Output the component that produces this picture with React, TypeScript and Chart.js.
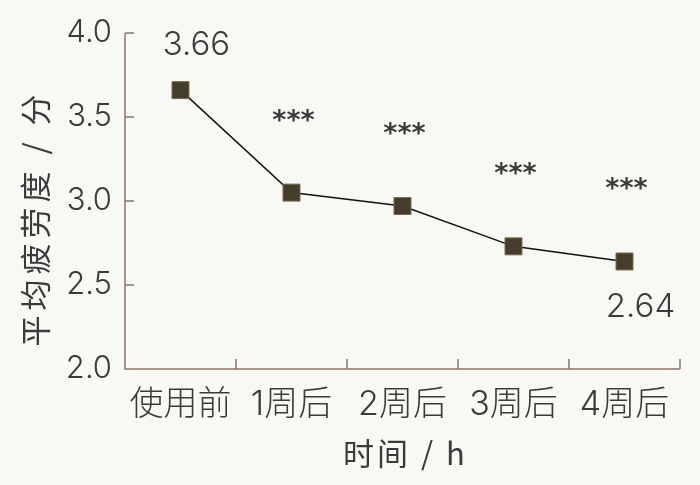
import { useEffect, useRef } from 'react'
import { Chart, registerables } from 'chart.js'
Chart.register(...registerables)

const categories = ['使用前', '1周后', '2周后', '3周后', '4周后']
const fatigue = [3.66, 3.05, 2.97, 2.73, 2.64]
const yTicks = [2.0, 2.5, 3.0, 3.5, 4.0]
const stars = ['', '***', '***', '***', '***']
const valueLabels = ['3.66', '', '', '', '2.64']
const xTitle = '时间 / h'
const yTitle = '平均疲劳度 / 分'

const axisColor = '#8a7566'
const textColor = '#3b3b3b'
const bg = '#f8f9f5'
const numFont = 'Inter, Lato, "Noto Sans CJK SC", sans-serif'

const axesPlugin = {
  id: 'axes',
  beforeDatasetsDraw(chart: any) {
    const { ctx, chartArea, scales } = chart
    const { left, right, top, bottom } = chartArea
    const x = scales.x, y = scales.y
    ctx.save()
    ctx.strokeStyle = axisColor
    ctx.lineWidth = 1.5
    ctx.beginPath()
    ctx.moveTo(left, top)
    ctx.lineTo(left, bottom)
    ctx.lineTo(right, bottom)
    yTicks.forEach(v => {
      if (v === yTicks[0]) return
      const py = y.getPixelForValue(v)
      ctx.moveTo(left, py)
      ctx.lineTo(left + 9, py)
    })
    const half = (x.getPixelForValue(1) - x.getPixelForValue(0)) / 2
    categories.forEach((_, i) => {
      const px = x.getPixelForValue(i) + half
      ctx.moveTo(px, bottom)
      ctx.lineTo(px, bottom - 10)
    })
    ctx.stroke()
    ctx.restore()
  },
  afterDatasetsDraw(chart: any) {
    const { ctx, chartArea } = chart
    const pts = chart.getDatasetMeta(0).data
    ctx.save()
    ctx.fillStyle = textColor
    ctx.textAlign = 'center'
    ctx.textBaseline = 'alphabetic'
    ctx.font = '300 33px ' + numFont
    valueLabels.forEach((t, i) => {
      if (!t) return
      const p = pts[i]
      const above = i === 0
      ctx.fillText(t, p.x + 16, above ? p.y - 35 : p.y + 56)
    })
    // significance marks
    ctx.font = 'bold 27px "DejaVu Sans", sans-serif'
    stars.forEach((t, i) => {
      if (!t) return
      const p = pts[i]
      ctx.fillText(t, p.x + 2, p.y - 64)
    })
    // axis titles
    ctx.font = '31px "Noto Sans CJK SC", Lato, sans-serif'
    ;(ctx as any).letterSpacing = '3px'
    ctx.textBaseline = 'middle'
    ctx.fillText(xTitle, (chartArea.left + chartArea.right) / 2 + 3, 453)
    ctx.translate(35, 218)
    ctx.rotate(-Math.PI / 2)
    ;(ctx as any).letterSpacing = '5px'
    ctx.fillText(yTitle, 0, 0)
    ctx.restore()
  },
}

const App = () => {
  const canvas = useRef<HTMLCanvasElement>(null)
  useEffect(() => {
    document.body.style.margin = '0'
    document.body.style.background = bg
    const chart = new Chart(canvas.current as HTMLCanvasElement, {
      type: 'line',
      data: {
        labels: categories,
        datasets: [
          {
            data: fatigue,
            borderColor: '#111111',
            borderWidth: 1.5,
            pointStyle: 'rect',
            pointRadius: 12,
            pointBackgroundColor: '#453d2b',
            pointBorderColor: '#7a6b48',
            pointBorderWidth: 1,
            tension: 0,
          },
        ],
      },
      options: {
        responsive: false,
        animation: false,
        layout: { padding: { top: 33, right: 20, left: 0, bottom: 0 } },
        plugins: { legend: { display: false }, tooltip: { enabled: false } },
        scales: {
          x: {
            offset: true,
            grid: { display: false, drawTicks: false },
            border: { display: false },
            ticks: {
              color: textColor,
              padding: 15,
              font: { family: 'Inter, "Noto Sans CJK SC", sans-serif', size: 34, weight: 300 },
              maxRotation: 0,
              autoSkip: false,
            },
            afterFit: (s: any) => { s.height = 116 },
          },
          y: {
            min: 2,
            max: 4,
            grid: { display: false, drawTicks: false },
            border: { display: false },
            afterBuildTicks: (s: any) => { s.ticks = yTicks.map(v => ({ value: v })) },
            ticks: {
              color: textColor,
              padding: 13,
              font: { family: numFont, size: 31, weight: 300 },
              callback: (v: any) => Number(v).toFixed(1),
            },
            afterFit: (s: any) => { s.width = 125 },
          },
        },
      },
      plugins: [axesPlugin],
    })
    return () => chart.destroy()
  }, [])
  return (
    <div style={{ width: 700, height: 485, background: bg }}>
      <canvas ref={canvas} width={700} height={485}></canvas>
    </div>
  )
}

export default App
